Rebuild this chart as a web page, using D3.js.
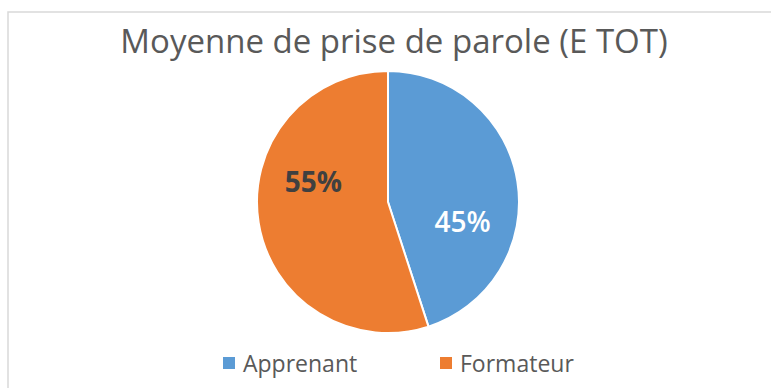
<!DOCTYPE html>
<html>
<head>
<meta charset="utf-8">
<script src="https://cdn.jsdelivr.net/npm/d3@7"></script>
<style>
  html, body { margin: 0; padding: 0; background: #fff; }
  svg { display: block; }
  text { font-family: "Open Sans", "Noto Sans", sans-serif; }
</style>
</head>
<body>
<svg id="chart" width="771" height="388"></svg>
<script>
// Share of speaking time, averaged (E TOT)
const categories = ["Apprenant", "Formateur"];
const values = [45, 55];
const colors = ["#5B9BD5", "#ED7D31"];
const labelColors = ["#FFFFFF", "#404040"];
const labelWeights = ["600", "700"];
const title = "Moyenne de prise de parole (E TOT)";

const svg = d3.select("#chart");
const W = 771, H = 388;

// chart frame (open to the right and bottom edges)
svg.append("rect")
  .attr("x", 8).attr("y", 12)
  .attr("width", W + 10).attr("height", H + 10)
  .attr("fill", "#fff")
  .attr("stroke", "#D9D9D9")
  .attr("stroke-width", 1.5);

// title
svg.append("text")
  .attr("x", 394).attr("y", 53)
  .attr("text-anchor", "middle")
  .attr("fill", "#595959")
  .attr("font-size", 33)
  .text(title);

const cx = 388, cy = 202, r = 131;
const g = svg.append("g").attr("transform", `translate(${cx},${cy})`);

const pie = d3.pie().value(d => d).sort(null);
const arcs = pie(values);
const arc = d3.arc().innerRadius(0).outerRadius(r);

g.selectAll("path.slice")
  .data(arcs)
  .enter().append("path")
  .attr("class", "slice")
  .attr("d", arc)
  .attr("fill", (d, i) => colors[i])
  .attr("stroke", "#fff")
  .attr("stroke-width", 2)
  .attr("stroke-linejoin", "round");

// data labels, best-fit placement: rotated slightly from slice midpoints
const labelShift = 24 * Math.PI / 180;
const labelArc = d3.arc().innerRadius(r * 0.59).outerRadius(r * 0.59);
g.selectAll("text.lbl")
  .data(arcs)
  .enter().append("text")
  .attr("class", "lbl")
  .attr("transform", d => {
    const c = labelArc.centroid({startAngle: d.startAngle + labelShift, endAngle: d.endAngle + labelShift});
    return `translate(${c[0]},${c[1]})`;
  })
  .attr("text-anchor", "middle")
  .attr("dy", "0.36em")
  .attr("font-size", 28)
  .attr("font-weight", (d, i) => labelWeights[i])
  .attr("fill", (d, i) => labelColors[i])
  .text(d => d.data + "%");

// legend
const legendX = [223, 440];
const legend = svg.selectAll("g.leg")
  .data(categories)
  .enter().append("g")
  .attr("class", "leg")
  .attr("transform", (d, i) => `translate(${legendX[i]},357)`);
legend.append("rect")
  .attr("width", 12).attr("height", 12)
  .attr("fill", (d, i) => colors[i]);
legend.append("text")
  .attr("x", 20).attr("y", 15)
  .attr("fill", "#595959")
  .attr("font-size", 23)
  .text(d => d);
</script>
</body>
</html>
